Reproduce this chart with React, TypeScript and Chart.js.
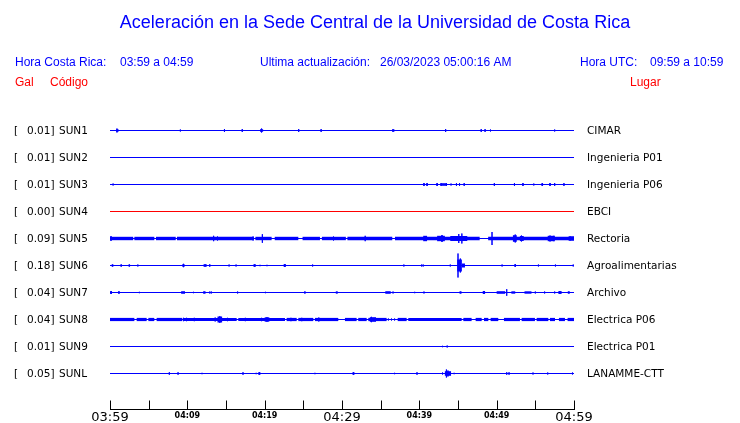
import { useEffect, useRef } from "react";
import { Chart, registerables } from "chart.js";
Chart.register(...registerables);

const TITLE = "Aceleración en la Sede Central de la Universidad de Costa Rica";
const HORA_CR_LABEL = "Hora Costa Rica:";
const HORA_CR_VALUE = "03:59 a 04:59";
const UPDATE_LABEL = "Ultima actualización:";
const UPDATE_VALUE = "26/03/2023 05:00:16 AM";
const HORA_UTC_LABEL = "Hora UTC:";
const HORA_UTC_VALUE = "09:59 a 10:59";
const COL_GAL = "Gal";
const COL_CODE = "Código";
const COL_PLACE = "Lugar";

const stations = ["SUN1", "SUN2", "SUN3", "SUN4", "SUN5", "SUN6", "SUN7", "SUN8", "SUN9", "SUNL"];
const peakValues = ["0.01", "0.01", "0.01", "0.00", "0.09", "0.18", "0.04", "0.04", "0.01", "0.05"];
const places = [
  "CIMAR", "Ingenieria P01", "Ingenieria P06", "EBCI", "Rectoria",
  "Agroalimentarias", "Archivo", "Electrica P06", "Electrica P01", "LANAMME-CTT",
];
const traceColors = [
  "#0000ff", "#0000ff", "#0000ff", "#ff0000", "#0000ff",
  "#0000ff", "#0000ff", "#0000ff", "#0000ff", "#0000ff",
];

// x axis: minutes after 03:59
const tickMinutes = [0, 5, 10, 15, 20, 25, 30, 35, 40, 45, 50, 55, 60];
const tickLabels = ["03:59", "", "04:09", "", "04:19", "", "04:29", "", "04:39", "", "04:49", "", "04:59"];
const majorLabels = ["03:59", "04:29", "04:59"];

// spikes: [minute, half amplitude]
const sun1Spikes = [[0.9, 2], [9.1, 1], [14.8, 1.5], [17.1, 1.5], [19.6, 2], [24.4, 1.5], [27.3, 1.5], [36.6, 1.5], [43.4, 1.5], [48.0, 1.5], [48.5, 1.5], [49.2, 1], [57.5, 1]];
const sun2Spikes: number[][] = [];
const sun3Spikes = [[0.4, 1], [40.6, 1.5], [41.0, 1.5], [42.3, 1.5], [42.8, 1.5], [43.5, 1.5], [44.1, 1], [44.8, 1.5], [45.2, 1.5], [45.8, 1.5], [49.7, 1.5], [52.3, 1.5], [53.4, 1.5], [54.8, 1], [55.9, 1.5], [56.9, 1.5], [57.5, 1.5], [58.7, 1.5]];
const sun4Spikes: number[][] = [];
const sun5Spikes = [[0.13, 2.5], [13.4, 2.7], [13.9, 2], [18.5, 2], [19.7, 4.3], [28.9, 2], [33.0, 2.7], [39.9, 1.5], [40.7, 2.5], [42.9, 3.3], [43.0, 3], [45.1, 4.5], [45.5, 5], [49.4, 6.5], [52.4, 4], [53.2, 3], [56.9, 3], [57.4, 2.7], [59.5, 2]];
const sun6Spikes = [[0.33, 1], [1.45, 1], [2.5, 1], [3.6, 1], [9.5, 1.7], [12.3, 1], [12.9, 1.3], [15.4, 1], [16.3, 1], [18.7, 1], [19.4, 0.7], [20.3, 0.7], [22.6, 1.5], [26.2, 1], [38.0, 1], [40.3, 1], [40.5, 1], [44.0, 1], [45.0, 12], [45.3, 7], [50.7, 1], [52.4, 1.3], [55.4, 1], [57.6, 1], [59.9, 1]];
const sun7Spikes = [[0.13, 1.5], [1.16, 1], [3.8, 0.7], [10.8, 0.7], [12.9, 1], [13.1, 1], [16.5, 1], [20.1, 0.7], [36.6, 1], [39.4, 0.7], [40.6, 1], [51.3, 3.3], [55.0, 1], [56.2, 1], [57.5, 1], [58.1, 1.5], [58.3, 1.5]];
const sun8Spikes = [[1.5, 1.5], [9.5, 1.7], [9.9, 1.7], [10.9, 1.7], [13.6, 2], [14.2, 3.3], [15.2, 1.7], [17.5, 1.7], [19.6, 1.7], [20.3, 2.3], [23.4, 1.7], [24.8, 1.7], [27.0, 2], [33.8, 2.7], [36.0, 1], [36.4, 1], [36.8, 1], [42.9, 1]];
const sun9Spikes = [[43.0, 0.7], [43.6, 1]];
const sunlSpikes = [[7.67, 1.3], [8.8, 1.3], [11.9, 0.7], [17.2, 1.3], [18.9, 0.7], [19.3, 1.3], [26.5, 0.7], [31.5, 1.3], [36.8, 0.7], [39.7, 1.3], [43.0, 1], [43.5, 4], [43.7, 3], [44.5, 0.7], [51.3, 1.3], [51.6, 1.3], [54.7, 1], [56.6, 1], [59.8, 1]];

// bursts (sustained shaking envelopes): [start minute, end minute, half amplitude]
const sun1Bursts = [[0.8, 1.1, 1.3], [19.4, 19.8, 1.3], [36.5, 36.8, 1]];
const sun2Bursts: number[][] = [];
const sun3Bursts = [[40.5, 40.7, 1.3], [40.9, 41.1, 1.3], [42.2, 42.4, 1.3], [42.8, 43.5, 1.3], [53.3, 53.5, 1], [55.8, 56.0, 1.3], [56.8, 57.0, 1.3]];
const sun4Bursts: number[][] = [];
const sun5Bursts = [
  [0.0, 3.0, 1.7], [3.15, 5.73, 1.7], [5.95, 8.5, 1.7], [8.66, 18.6, 1.7], [18.8, 20.9, 1.7],
  [21.3, 24.35, 1.7], [24.9, 27.15, 1.7], [27.4, 30.5, 1.7], [30.7, 36.5, 1.7], [36.85, 47.8, 1.7],
  [48.9, 60, 1.7],
  [40.5, 41.0, 2.7], [42.3, 43.3, 2.7], [44.0, 46.2, 2.5], [52.1, 52.6, 3.3], [53.0, 53.5, 2.5],
  [56.6, 57.5, 2.7], [59.3, 60, 2.2],
];
const sun6Bursts = [[0.2, 0.45, 1], [1.35, 1.55, 1], [2.4, 2.6, 1], [9.35, 9.65, 1.3], [12.1, 12.5, 1.3], [18.55, 18.85, 1.3], [22.45, 22.75, 1.3], [44.9, 45.5, 6], [45.5, 45.9, 2], [52.3, 52.5, 1.3]];
const sun7Bursts = [[0.05, 0.25, 1.5], [1.05, 1.25, 1.2], [9.2, 9.7, 1.3], [12.05, 12.35, 1.3], [25.1, 25.3, 1.2], [29.2, 29.45, 1.2], [35.6, 36.3, 1.3], [45.2, 45.45, 1.3], [48.2, 48.5, 1.5], [50.0, 51.1, 1.3], [51.9, 52.4, 1.2], [53.6, 54.5, 1.2], [58.0, 58.3, 1.3], [59.2, 59.45, 1.3]];
const sun8Bursts = [
  [0.0, 3.15, 1.6], [3.45, 4.74, 1.6], [4.96, 5.73, 1.6], [6.03, 9.35, 1.6], [9.52, 16.38, 1.6],
  [16.59, 22.63, 1.6], [22.84, 24.14, 1.6], [24.35, 26.29, 1.6], [26.5, 29.52, 1.6], [30.38, 31.89, 1.6],
  [32.1, 33.19, 1.6], [33.4, 35.77, 1.6], [37.2, 38.36, 1.6], [38.57, 45.47, 1.6], [45.69, 46.76, 1.6],
  [47.28, 48.06, 1.6], [48.36, 48.92, 1.6], [49.22, 50.21, 1.6], [50.94, 53.01, 1.6], [53.23, 54.95, 1.6],
  [55.17, 56.68, 1.6], [56.89, 57.54, 1.6], [58.05, 58.83, 1.6], [59.17, 60, 1.6],
  [13.9, 14.5, 3], [20.0, 20.6, 2.2], [33.6, 34.4, 2.3],
];
const sun9Bursts: number[][] = [];
const sunlBursts = [[19.2, 19.45, 1.3], [31.35, 31.6, 1.3], [43.3, 44.1, 2.3]];

const spikeSets = [sun1Spikes, sun2Spikes, sun3Spikes, sun4Spikes, sun5Spikes, sun6Spikes, sun7Spikes, sun8Spikes, sun9Spikes, sunlSpikes];
const burstSets = [sun1Bursts, sun2Bursts, sun3Bursts, sun4Bursts, sun5Bursts, sun6Bursts, sun7Bursts, sun8Bursts, sun9Bursts, sunlBursts];

const X_MIN = 0;
const X_MAX = 60;
const ROW_FIRST = 14.5;
const ROW_STEP = 27;
const Y_MAX = 293;

function traceLine(base: number, spikes: number[][]) {
  const pts: { x: number; y: number }[] = [{ x: X_MIN, y: base }];
  const sorted = [...spikes].sort((p, q) => p[0] - q[0]);
  for (const [t, a] of sorted) {
    pts.push({ x: t, y: base }, { x: t, y: base - a }, { x: t, y: base + a }, { x: t, y: base });
  }
  pts.push({ x: X_MAX, y: base });
  return pts;
}

export default function App() {
  const ref = useRef<HTMLCanvasElement>(null);

  useEffect(() => {
    const canvas = ref.current;
    if (!canvas) return;
    const datasets: any[] = [];
    stations.forEach((s, i) => {
      const base = ROW_FIRST + ROW_STEP * i;
      const color = traceColors[i];
      datasets.push({
        label: s,
        data: traceLine(base, spikeSets[i]),
        borderColor: color,
        backgroundColor: color,
        borderWidth: 1,
        pointRadius: 0,
        fill: false,
      });
      burstSets[i].forEach(([t0, t1, a]) => {
        datasets.push({
          label: s + " burst",
          data: [{ x: t0, y: base }, { x: t1, y: base }],
          borderColor: color,
          backgroundColor: color,
          borderWidth: 2 * a,
          borderCapStyle: "butt",
          pointRadius: 0,
          fill: false,
        });
      });
    });

    const overlay = {
      id: "overlay",
      afterDraw(chart: any) {
        const ctx = chart.ctx as CanvasRenderingContext2D;
        const xs = chart.scales.x;
        const ys = chart.scales.y;
        const area = chart.chartArea;
        ctx.save();
        // title
        ctx.fillStyle = "#0000ff";
        ctx.font = "18px 'Liberation Sans', Arial, sans-serif";
        ctx.textAlign = "center";
        ctx.textBaseline = "alphabetic";
        ctx.fillText(TITLE, 375, 28);
        // header row
        ctx.font = "12px 'Liberation Sans', Arial, sans-serif";
        ctx.textAlign = "left";
        ctx.fillText(HORA_CR_LABEL, 15, 66);
        ctx.fillText(HORA_CR_VALUE, 120, 66);
        ctx.fillText(UPDATE_LABEL, 260, 66);
        ctx.fillText(UPDATE_VALUE, 380, 66);
        ctx.fillText(HORA_UTC_LABEL, 580, 66);
        ctx.fillText(HORA_UTC_VALUE, 650, 66);
        ctx.fillStyle = "#ff0000";
        ctx.fillText(COL_GAL, 15, 86);
        ctx.fillText(COL_CODE, 50, 86);
        ctx.fillText(COL_PLACE, 630, 86);
        // row labels
        ctx.fillStyle = "#000000";
        ctx.font = "10.5px 'DejaVu Sans', sans-serif";
        stations.forEach((s, i) => {
          const y = ys.getPixelForValue(ROW_FIRST + ROW_STEP * i) + 3.5;
          ctx.fillText("[", 14, y);
          ctx.fillText(peakValues[i] + "]", 27, y);
          ctx.fillText(s, 59, y);
          ctx.fillText(places[i], 587, y);
        });
        // x axis
        const yAxis = Math.round(area.bottom) + 0.5;
        ctx.strokeStyle = "#000000";
        ctx.lineWidth = 1;
        ctx.beginPath();
        ctx.moveTo(area.left, yAxis);
        ctx.lineTo(area.right + 1, yAxis);
        tickMinutes.forEach((m) => {
          const x = Math.round(xs.getPixelForValue(m)) + 0.5;
          ctx.moveTo(x, yAxis);
          ctx.lineTo(x, yAxis - 9);
        });
        ctx.stroke();
        ctx.textAlign = "center";
        tickMinutes.forEach((m, i) => {
          const label = tickLabels[i];
          if (!label) return;
          const x = xs.getPixelForValue(m);
          if (majorLabels.includes(label)) {
            ctx.font = "13px 'DejaVu Sans', sans-serif";
            ctx.fillText(label, x, yAxis + 11);
          } else {
            ctx.font = "bold 8px 'DejaVu Sans', sans-serif";
            ctx.fillText(label, x, yAxis + 8.5);
          }
        });
        ctx.restore();
      },
    };

    const chart = new Chart(canvas, {
      type: "line",
      data: { datasets },
      options: {
        animation: false,
        responsive: false,
        events: [],
        layout: { padding: { left: 110, right: 166, top: 116, bottom: 14 } },
        scales: {
          x: { type: "linear", min: X_MIN, max: X_MAX, display: false },
          y: { type: "linear", min: 0, max: Y_MAX, reverse: true, display: false },
        },
        plugins: { legend: { display: false }, tooltip: { enabled: false } },
        elements: { line: { tension: 0 }, point: { radius: 0 } },
      },
      plugins: [overlay],
    } as any);
    return () => chart.destroy();
  }, []);

  return (
    <div style={{ position: "fixed", left: 0, top: 0, width: 740, height: 423, background: "#ffffff" }}>
      <canvas ref={ref} width={740} height={423} style={{ display: "block" }} />
    </div>
  );
}
